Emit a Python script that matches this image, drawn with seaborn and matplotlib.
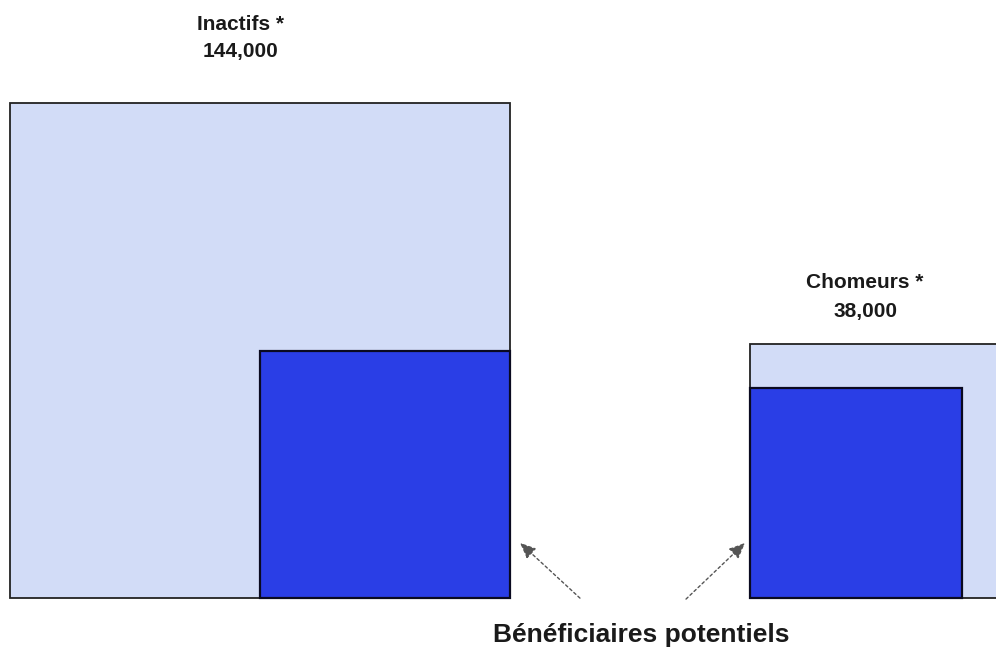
import numpy as np
import matplotlib
matplotlib.use("Agg")
import matplotlib.pyplot as plt
import seaborn as sns

# Populations (square area is proportional to the count)
groups = ["Inactifs *", "Chomeurs *"]
totals = [144000, 38000]
beneficiaires = [36000, 26000]
total_labels = ["144,000", "38,000"]
note_label = "Bénéficiaires potentiels"

sns.set_theme(style="white")
plt.rcParams["font.family"] = ["Liberation Sans", "DejaVu Sans"]

W, H = 996, 651
fig = plt.figure(figsize=(W / 100, H / 100), dpi=100)
ax = fig.add_axes([0, 0, 1, 1])
ax.set_axis_off()

# pixel scale per sqrt(count) unit
sx = 500 / np.sqrt(totals[0])
sy = 495 / np.sqrt(totals[0])
ax.set_xlim(0, W / sx)
ax.set_ylim(0, H / sy)

light = "#d2dcf7"
dark = "#2a3ee6"

base = (H - 598) / sy
lefts = [10 / sx, 750 / sx]

for i, (tot, ben) in enumerate(zip(totals, beneficiaires)):
    side_t = np.sqrt(tot)
    side_b = np.sqrt(ben)
    ax.bar(lefts[i], side_t, width=side_t, bottom=base, align="edge",
           color=light, edgecolor="#222222", linewidth=1.3, zorder=1)
    # beneficiaries: right-aligned in the first block, left-aligned in the second
    bx = lefts[i] + side_t - side_b if i == 0 else lefts[i]
    ax.bar(bx, side_b, width=side_b, bottom=base, align="edge",
           color=dark, edgecolor="#0a0a20", linewidth=1.6, zorder=2)


def px(x, y):
    return x / W, 1 - y / H


label_pos = [(240, 24, 52), (865, 283, 311)]
for (cx, y1, y2), g, t in zip(label_pos, groups, total_labels):
    fig.text(*px(cx, y1), g, ha="center", va="center", fontsize=15,
             fontweight="bold", color="#1a1a1a")
    fig.text(*px(cx, y2), t, ha="center", va="center", fontsize=15,
             fontweight="bold", color="#1a1a1a")

fig.text(*px(641, 635), note_label, ha="center", va="center", fontsize=19,
         fontweight="bold", color="#1a1a1a")

arrow_kw = dict(arrowstyle="-|>,head_length=0.8,head_width=0.35",
                color="#555555", lw=1.0, linestyle=(0, (2, 2)))
for tail, head in [((582, 600), (518, 541)), ((684, 601), (747, 541))]:
    ax.annotate("", xy=px(*head), xycoords="figure fraction",
                xytext=px(*tail), textcoords="figure fraction",
                arrowprops=arrow_kw)

fig.savefig("out.png", dpi=100, facecolor="white")
